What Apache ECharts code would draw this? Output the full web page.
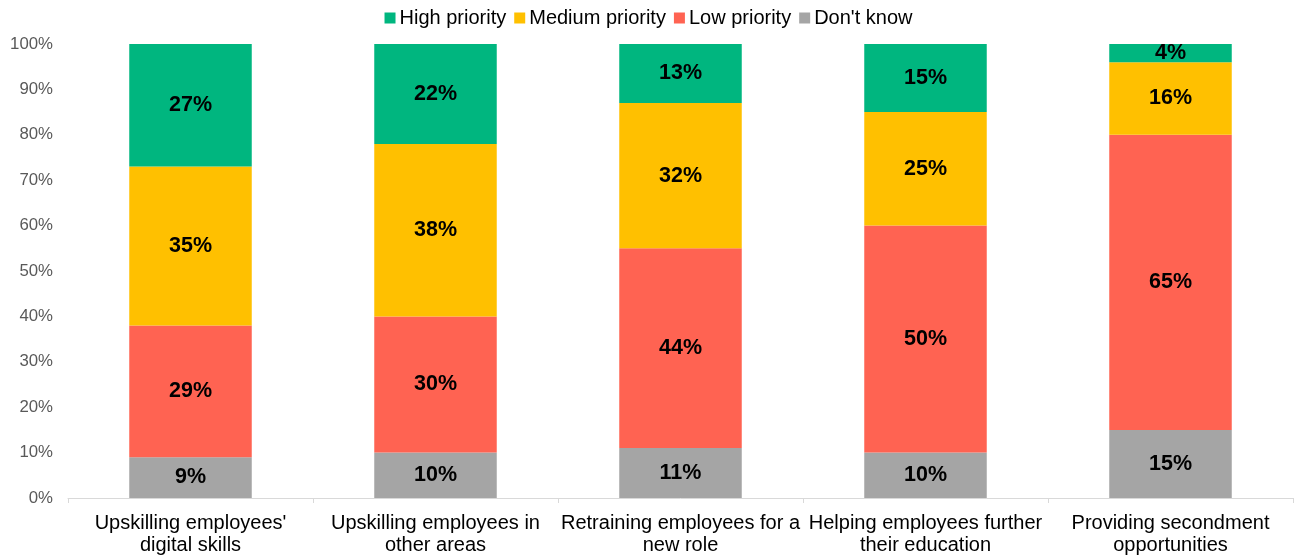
<!DOCTYPE html>
<html>
<head>
<meta charset="utf-8">
<script src="https://cdn.jsdelivr.net/npm/echarts@6/dist/echarts.min.js"></script>
<style>
  html, body { margin: 0; padding: 0; background: #fff; }
  #chart { width: 1297px; height: 560px; }
</style>
</head>
<body>
<div id="chart"></div>
<script>
// Training priorities, share of respondents (%)
const categories = [
  "Upskilling employees'\ndigital skills",
  "Upskilling employees in\nother areas",
  "Retraining employees for a\nnew role",
  "Helping employees further\ntheir education",
  "Providing secondment\nopportunities"
];
const dontKnow = [9, 10, 11, 10, 15];
const lowPriority = [29, 30, 44, 50, 65];
const mediumPriority = [35, 38, 32, 25, 16];
const highPriority = [27, 22, 13, 15, 4];
const yTicks = [0, 10, 20, 30, 40, 50, 60, 70, 80, 90, 100];

const FONT = "Liberation Sans, Arial, sans-serif";

function bar(name, data, color) {
  return {
    name: name,
    type: 'bar',
    stack: 'total',
    data: data,
    barWidth: '50%',
    itemStyle: { color: color },
    label: {
      show: true,
      position: 'inside',
      formatter: p => p.value + '%',
      color: '#000',
      fontFamily: FONT,
      fontWeight: 'bold',
      fontSize: 21.5
    },
    emphasis: { disabled: true }
  };
}

const chart = echarts.init(document.getElementById('chart'), null, { renderer: 'canvas' });
chart.setOption({
  animation: false,
  textStyle: { fontFamily: FONT },
  legend: {
    top: 3,
    left: 'center',
    itemWidth: 11,
    itemHeight: 11,
    itemGap: 8,
    icon: 'rect',
    textStyle: { fontFamily: FONT, fontSize: 20, color: '#000', padding: [0, 0, 0, -1] },
    data: ['High priority', 'Medium priority', 'Low priority', "Don't know"]
  },
  grid: { left: 68, right: 4, top: 44, bottom: 62, containLabel: false },
  xAxis: {
    type: 'category',
    data: categories,
    axisLine: { show: true, lineStyle: { color: '#d9d9d9', width: 1 } },
    axisTick: { show: true, alignWithLabel: false, length: 5, lineStyle: { color: '#d9d9d9' } },
    axisLabel: {
      color: '#000',
      fontFamily: FONT,
      fontSize: 20,
      lineHeight: 22,
      interval: 0,
      margin: 14
    }
  },
  yAxis: {
    type: 'value',
    min: yTicks[0],
    max: yTicks[yTicks.length - 1],
    interval: 10,
    axisLine: { show: false },
    axisTick: { show: false },
    splitLine: { show: false },
    axisLabel: {
      color: '#595959',
      fontFamily: FONT,
      fontSize: 16.8,
      margin: 15,
      padding: [3, 0, 0, 0],
      formatter: v => v + '%'
    }
  },
  series: [
    bar("Don't know", dontKnow, '#A5A5A5'),
    bar('Low priority', lowPriority, '#FF6352'),
    bar('Medium priority', mediumPriority, '#FFC000'),
    bar('High priority', highPriority, '#00B67F')
  ]
});
</script>
</body>
</html>
